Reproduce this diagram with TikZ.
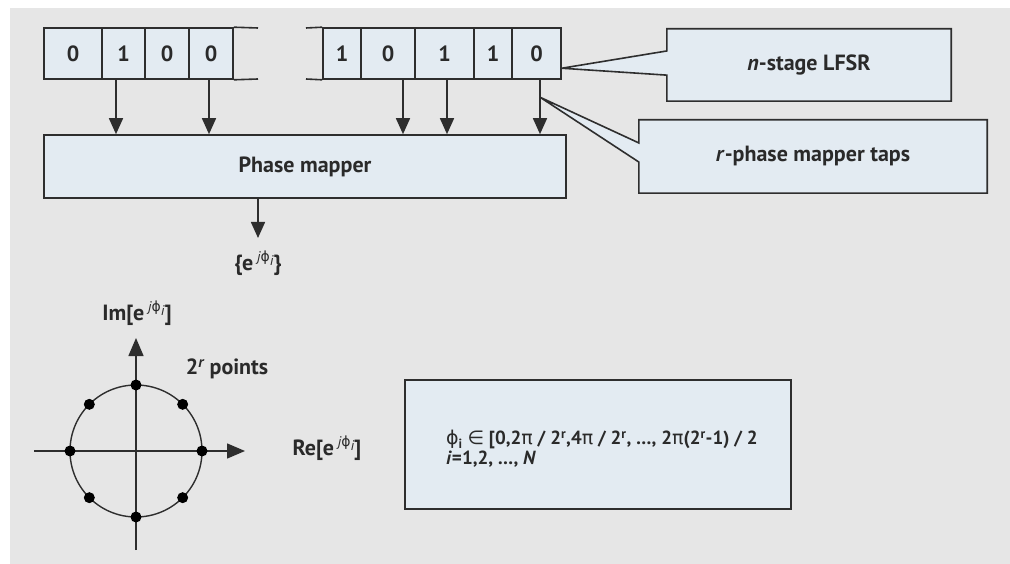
\documentclass[tikz,border=0pt]{standalone}
\usepackage{fontspec}
\setmainfont{PT Sans}
\newfontfamily\sym{DejaVu Sans}
\usetikzlibrary{arrows.meta,calc,backgrounds}
\definecolor{bg}{HTML}{E6E6E6}
\definecolor{fillb}{HTML}{E3EBF2}
\definecolor{ln}{HTML}{2E2E2E}
\definecolor{tx}{HTML}{2A2A2A}
\newcommand\ejphi{e\hspace{0.18em}\raisebox{0.42em}{\fontsize{14}{14}\selectfont\mdseries\itshape j{\sym\upshape ϕ}\raisebox{-0.3em}{i}}}
\begin{document}
\begin{tikzpicture}[x=1pt,y=-1pt,
  font=\fontsize{22}{25}\selectfont\bfseries, text=tx,
  cell/.style={draw=ln, fill=fillb, line width=1.6pt, minimum height=51pt, inner sep=0pt},
  box/.style={draw=ln, fill=fillb, line width=1.6pt, inner sep=0pt},
  callout/.style={draw=ln, fill=fillb, line width=1.6pt, line join=miter},
  wire/.style={draw=ln, line width=1.6pt, line cap=butt},
  arr/.style={draw=ln, line width=1.6pt, -{Triangle[width=14pt,length=16pt]}},
  axarr/.style={draw=ln, line width=1.4pt, -{Triangle[width=15pt,length=18pt]}},
  lbl/.style={inner sep=0pt}]
\useasboundingbox (0,0) rectangle (1010,564);
\begin{pgfonlayer}{background}
  \fill[white] (0,0) rectangle (1010,564);
  \fill[bg] (10,8) rectangle (1010,564);
\end{pgfonlayer}

% register 1
\node[cell, minimum width=58pt] (c1) at (73,53.5) {0};
\node[cell, minimum width=43pt] (c2) at (123.5,53.5) {1};
\node[cell, minimum width=44pt] (c3) at (167,53.5) {0};
\node[cell, minimum width=44pt] (c4) at (211,53.5) {0};
\coordinate (r1t) at (258,28);
\coordinate (r1b) at (258,79);
\draw[wire] (c4.north east) -- (r1t);
\draw[wire] (c4.south east) -- (r1b);

% register 2
\node[cell, minimum width=38pt] (d1) at (342,53.5) {1};
\node[cell, minimum width=54pt] (d2) at (388,53.5) {0};
\node[cell, minimum width=59pt] (d3) at (444.5,53.5) {1};
\node[cell, minimum width=38pt] (d4) at (493,53.5) {1};
\node[cell, minimum width=49pt] (d5) at (536.5,53.5) {0};
\coordinate (r2t) at (306,28);
\coordinate (r2b) at (306,79);
\draw[wire] (d1.north west) -- (r2t);
\draw[wire] (d1.south west) -- (r2b);

% phase mapper
\node[box, minimum width=522pt, minimum height=63pt] (pm) at (305,166.5) {Phase mapper};

% taps
\coordinate (t1) at (116,79);
\coordinate (t2) at (209,79);
\coordinate (t3) at (403,79);
\coordinate (t4) at (447,79);
\coordinate (t5) at (540,79);
\foreach \t in {t1,t2,t3,t4,t5}{\draw[arr] (\t) -- (\t |- pm.north);}

% output
\coordinate (ot) at (258,238);
\draw[arr] (ot |- pm.south) -- (ot);
\node[lbl] (eo) at (258,263) {\{\ejphi\}};

% callouts
\node[minimum width=284pt, minimum height=72pt, inner sep=0pt] (lf) at (809,65) {\textit{n}-stage LFSR};
\node[minimum width=348pt, minimum height=73pt, inner sep=0pt] (rp) at (813,156.5) {\textit{r}-phase mapper taps};
\coordinate (tipA) at ($(d5.north east)!0.78!(d5.south east)$);
\coordinate (tipB) at ($(t5)!0.33!(t5 |- pm.north)$);
\begin{pgfonlayer}{background}
  \draw[callout] (lf.north west) -- (lf.north east) -- (lf.south east) -- (lf.south west)
    -- ($(lf.north west)!0.64!(lf.south west)$) -- (tipA)
    -- ($(lf.north west)!0.306!(lf.south west)$) -- cycle;
  \draw[callout] (rp.north west) -- (rp.north east) -- (rp.south east) -- (rp.south west)
    -- ($(rp.north west)!0.575!(rp.south west)$) -- (tipB)
    -- ($(rp.north west)!0.315!(rp.south west)$) -- cycle;
\end{pgfonlayer}

% constellation
\coordinate (O) at (136,451);
\coordinate (xa) at (34,451);
\coordinate (xb) at (245,451);
\coordinate (ya) at (136,550);
\coordinate (yb) at (136,338);
\draw[ln, line width=1.4pt] (O) circle[radius=66];
\draw[axarr] (xa) -- (xb);
\draw[axarr] (ya) -- (yb);
\foreach \a in {0,45,...,315}{\fill[black] ($(O)+(\a:66)$) circle[radius=5.5];}
\node[lbl] (im) at (137,313) {Im[\ejphi]};
\node[lbl] (pts) at (227,369) {2\textsuperscript{\itshape r} points};
\node[lbl] (re) at (327,448) {Re[\ejphi]};

% equation box
\node[box, minimum width=386pt, minimum height=129pt] (eq) at (598,444.5) {};
\node[lbl, anchor=west, align=left, font=\fontsize{19}{20}\selectfont\bfseries] (eqt) at (446,449)
  {{\sym\mdseries ϕ}\textsubscript{i} {\sym\mdseries ∈} [0,2{\sym\mdseries π} / 2\textsuperscript{r},4{\sym\mdseries π} / 2\textsuperscript{r}, …, 2{\sym\mdseries π}(2\textsuperscript{r}-1) / 2\\
   \textit{i}=1,2, …, \textit{N}};
\end{tikzpicture}
\end{document}
